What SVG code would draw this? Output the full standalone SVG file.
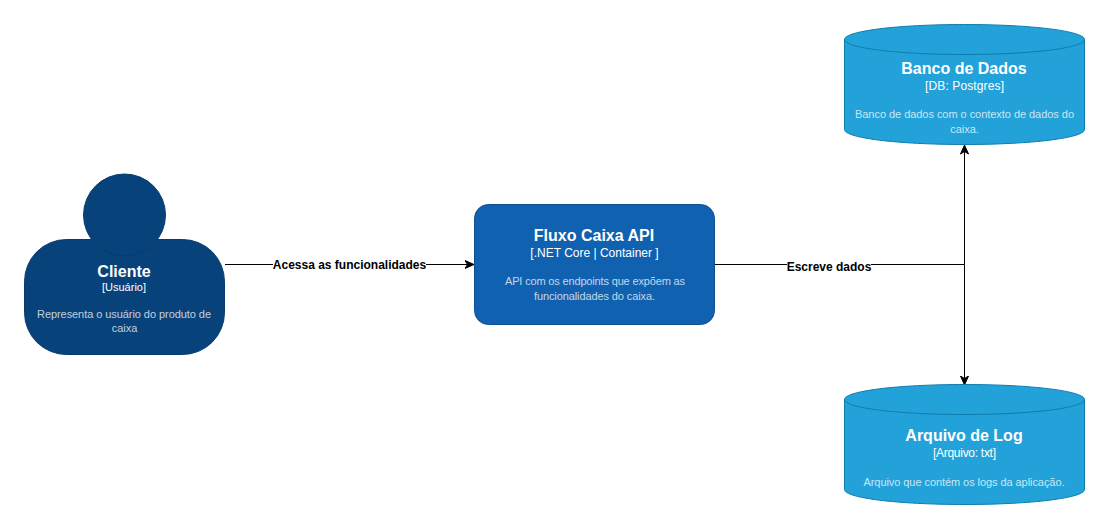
<svg xmlns="http://www.w3.org/2000/svg" width="1109" height="529" viewBox="0 0 1109 529">
<style>
text{font-family:"Liberation Sans",Arial,Helvetica,sans-serif;text-anchor:middle;fill:#fff}
.t{font-size:16px;font-weight:bold}
.s{font-size:12px}
.sm{font-size:11px}
.d{font-size:11px;fill:#fff;fill-opacity:.75}
.e{font-size:12px;font-weight:bold;fill:#000}
.p{fill:#08427b;stroke:#073b6f}
.c{fill:#1061b0;stroke:#0d5091}
.db{fill:#23a2d9;stroke:#0e7dad}
.ln{fill:none}
.l{fill:none;stroke:#000;stroke-width:1;marker-end:url(#a)}
</style>
<defs>
<marker id="a" viewBox="0 0 10 10" refX="9.500" refY="5" markerWidth="10" markerHeight="10" markerUnits="userSpaceOnUse" orient="auto"><path d="M0.500 1L9.500 5L0.500 9L3 5Z" fill="#000" stroke="#000" stroke-width="1"/></marker>
</defs>
<g id="connectors">
<path class="l" d="M225 264.500H474"/>
<path class="l" d="M715 264.500H964.500V145"/>
<path class="l" d="M964.500 264.500V385"/>
<rect x="273" y="258" width="153" height="14" fill="#fff"/>
<rect x="787" y="258" width="84" height="14" fill="#fff"/>
<text class="e" x="349.500" y="269">Acessa as funcionalidades</text>
<text class="e" x="829" y="271">Escreve dados</text>
</g>
<g id="cliente">
<rect class="p" x="24.500" y="239.500" width="200" height="115" rx="42" ry="42"/>
<circle class="p" cx="124.500" cy="215" r="41"/>
<text class="t" x="124" y="277">Cliente</text>
<text class="sm" x="124" y="291">[Usuário]</text>
<text class="d" x="124" y="318" textLength="174">Representa o usuário do produto de</text>
<text class="d" x="124.500" y="332">caixa</text>
</g>
<g id="fluxo-caixa-api">
<rect class="c" x="474.500" y="204.500" width="240" height="120" rx="14" ry="14"/>
<text class="t" x="594" y="241">Fluxo Caixa API</text>
<text class="s" x="594.500" y="257">[.NET Core | Container ]</text>
<text class="d" x="595" y="285" textLength="180">API com os endpoints que expõem as</text>
<text class="d" x="594.500" y="300" textLength="121">funcionalidades do caixa.</text>
</g>
<g id="banco-de-dados">
<path class="db" d="M844.500 39.500C844.500 31 898 24.500 964.500 24.500S1084.500 31 1084.500 39.500V129.500C1084.500 138 1031 144.500 964.500 144.500S844.500 138 844.500 129.500Z"/>
<path class="db ln" style="fill:none" d="M844.500 39.500C844.500 48 898 54.500 964.500 54.500S1084.500 48 1084.500 39.500"/>
<text class="t" x="964" y="74">Banco de Dados</text>
<text class="s" x="964.500" y="90" textLength="79">[DB: Postgres]</text>
<text class="d" x="964.500" y="118" textLength="219">Banco de dados com o contexto de dados do</text>
<text class="d" x="964.500" y="133">caixa.</text>
</g>
<g id="arquivo-de-log">
<path class="db" d="M844.500 399.500C844.500 391 898 384.500 964.500 384.500S1084.500 391 1084.500 399.500V489.500C1084.500 498 1031 504.500 964.500 504.500S844.500 498 844.500 489.500Z"/>
<path class="db ln" style="fill:none" d="M844.500 399.500C844.500 408 898 414.500 964.500 414.500S1084.500 408 1084.500 399.500"/>
<text class="t" x="964" y="441">Arquivo de Log</text>
<text class="s" x="964.500" y="457" textLength="63">[Arquivo: txt]</text>
<text class="d" x="964" y="486" textLength="201">Arquivo que contém os logs da aplicação.</text>
</g>
</svg>
